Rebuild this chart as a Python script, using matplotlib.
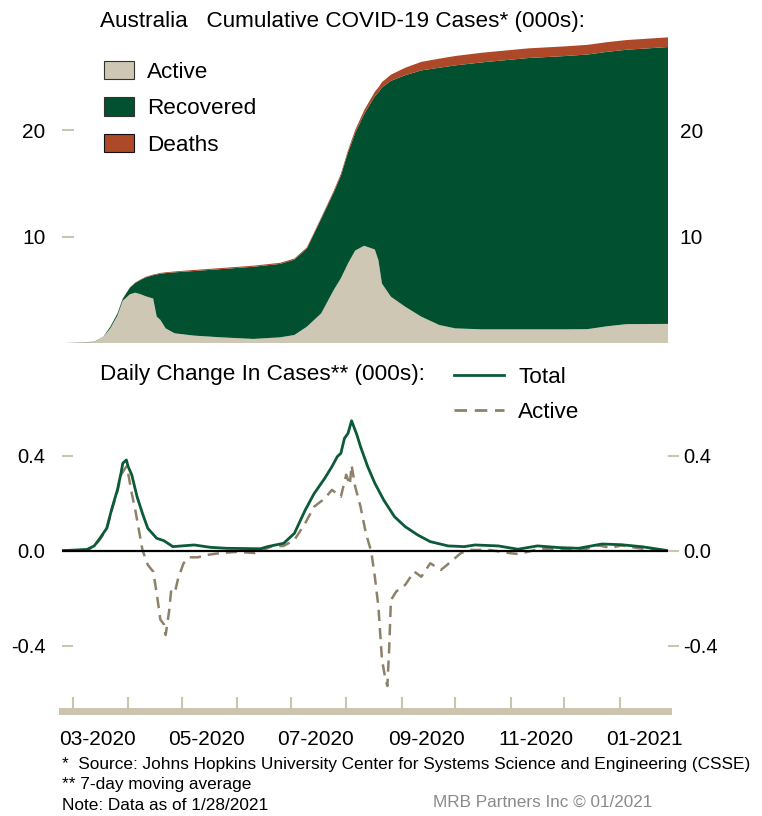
import numpy as np
import pandas as pd
import matplotlib
matplotlib.use("Agg")
import matplotlib.pyplot as plt
import matplotlib.dates as mdates
from matplotlib.ticker import NullFormatter, FormatStrFormatter
from matplotlib.patches import Patch
from matplotlib.lines import Line2D

plt.rcParams['font.family'] = ['Liberation Sans', 'DejaVu Sans']

# ---- cumulative cases (000s) ----
cum_dates = ["2020-02-24", "2020-03-13", "2020-03-18", "2020-03-22", "2020-03-26", "2020-03-29",
             "2020-04-02", "2020-04-05", "2020-04-08", "2020-04-11", "2020-04-15", "2020-04-17",
             "2020-04-19", "2020-04-22", "2020-04-27", "2020-05-08", "2020-05-23", "2020-06-10",
             "2020-06-25", "2020-07-03", "2020-07-10", "2020-07-18", "2020-07-25", "2020-07-29",
             "2020-08-02", "2020-08-06", "2020-08-11", "2020-08-17", "2020-08-19", "2020-08-21",
             "2020-08-26", "2020-09-03", "2020-09-12", "2020-09-22", "2020-10-01", "2020-10-16",
             "2020-11-11", "2020-12-01", "2020-12-14", "2020-12-25", "2021-01-05", "2021-01-28"]
total_cum = [0.02, 0.15, 0.6, 1.56, 2.8, 4.2,
             5.25, 5.7, 6.0, 6.25, 6.45, 6.52,
             6.6, 6.66, 6.74, 6.88, 7.06, 7.28,
             7.55, 7.95, 9.0, 11.8, 14.3, 15.9,
             18.1, 20.0, 21.85, 23.6, 24.0, 24.5,
             25.2, 25.85, 26.4, 26.7, 26.95, 27.26,
             27.67, 27.85, 28.0, 28.25, 28.45, 28.7]
active_cum = [0.02, 0.12, 0.58, 1.4, 2.6, 4.0,
              4.6, 4.75, 4.6, 4.4, 4.2, 2.5,
              2.2, 1.4, 0.94, 0.72, 0.56, 0.41,
              0.56, 0.78, 1.56, 2.81, 5.0, 6.1,
              7.5, 8.7, 9.15, 8.8, 7.8, 5.6,
              4.37, 3.43, 2.5, 1.72, 1.4, 1.31,
              1.31, 1.31, 1.33, 1.6, 1.8, 1.82]
deaths_cum = [0.0, 0.003, 0.006, 0.007, 0.013, 0.016,
              0.025, 0.035, 0.051, 0.061, 0.063, 0.065,
              0.071, 0.075, 0.083, 0.097, 0.1, 0.102,
              0.104, 0.104, 0.106, 0.122, 0.145, 0.176,
              0.208, 0.278, 0.351, 0.42, 0.46, 0.5,
              0.58, 0.7, 0.8, 0.85, 0.88, 0.904,
              0.907, 0.907, 0.908, 0.908, 0.909, 0.909]

# ---- daily change, 7-day moving average (000s) ----
tot_dates = ["2020-02-24", "2020-03-09", "2020-03-13", "2020-03-16", "2020-03-20", "2020-03-23",
             "2020-03-26", "2020-03-28", "2020-03-29", "2020-03-31", "2020-04-01", "2020-04-03",
             "2020-04-06", "2020-04-09", "2020-04-12", "2020-04-17", "2020-04-21", "2020-04-26",
             "2020-05-08", "2020-05-17", "2020-05-26", "2020-06-14", "2020-06-18", "2020-06-27",
             "2020-07-03", "2020-07-09", "2020-07-14", "2020-07-20", "2020-07-24", "2020-07-27",
             "2020-07-29", "2020-07-31", "2020-08-02", "2020-08-04", "2020-08-07", "2020-08-09",
             "2020-08-13", "2020-08-17", "2020-08-22", "2020-08-28", "2020-09-03", "2020-09-10",
             "2020-09-17", "2020-09-27", "2020-10-06", "2020-10-12", "2020-10-25", "2020-11-05",
             "2020-11-16", "2020-11-28", "2020-12-09", "2020-12-22", "2021-01-02", "2021-01-14",
             "2021-01-28"]
total_daily = [0.0, 0.005, 0.02, 0.05, 0.094, 0.18,
               0.256, 0.326, 0.368, 0.382, 0.354, 0.32,
               0.227, 0.157, 0.094, 0.052, 0.042, 0.017,
               0.024, 0.014, 0.01, 0.008, 0.017, 0.031,
               0.073, 0.17, 0.24, 0.305, 0.354, 0.396,
               0.41, 0.473, 0.494, 0.547, 0.487, 0.438,
               0.354, 0.284, 0.213, 0.143, 0.101, 0.066,
               0.038, 0.02, 0.017, 0.024, 0.02, 0.006,
               0.02, 0.013, 0.01, 0.028, 0.025, 0.016,
               0.0]

act_dates = ["2020-02-24", "2020-03-09", "2020-03-13", "2020-03-16", "2020-03-20", "2020-03-23",
             "2020-03-26", "2020-03-28", "2020-03-31", "2020-04-01", "2020-04-03", "2020-04-05",
             "2020-04-07", "2020-04-09", "2020-04-11", "2020-04-12", "2020-04-15", "2020-04-17",
             "2020-04-19", "2020-04-21", "2020-04-22", "2020-04-24", "2020-04-25", "2020-04-27",
             "2020-04-29", "2020-05-02", "2020-05-05", "2020-05-10", "2020-05-15", "2020-05-23",
             "2020-06-01", "2020-06-11", "2020-06-20", "2020-06-27", "2020-07-03", "2020-07-09",
             "2020-07-14", "2020-07-20", "2020-07-24", "2020-07-29", "2020-08-01", "2020-08-03",
             "2020-08-04", "2020-08-06", "2020-08-09", "2020-08-12", "2020-08-15", "2020-08-17",
             "2020-08-19", "2020-08-21", "2020-08-23", "2020-08-24", "2020-08-25", "2020-08-26",
             "2020-08-29", "2020-09-03", "2020-09-08", "2020-09-12", "2020-09-17", "2020-09-23",
             "2020-09-28", "2020-10-04", "2020-10-09", "2020-10-20", "2020-11-01", "2020-11-05",
             "2020-11-11", "2020-11-18", "2020-12-01", "2020-12-12", "2020-12-20", "2020-12-27",
             "2021-01-02", "2021-01-12", "2021-01-28"]
active_daily = [0.0, 0.003, 0.018, 0.045, 0.09, 0.175,
                0.25, 0.32, 0.354, 0.326, 0.242, 0.171,
                0.087, 0.003, -0.039, -0.06, -0.088, -0.18,
                -0.29, -0.31, -0.355, -0.25, -0.172, -0.18,
                -0.116, -0.053, -0.028, -0.028, -0.018, -0.01,
                -0.005, -0.01, 0.017, 0.02, 0.045, 0.115,
                0.185, 0.22, 0.256, 0.227, 0.32, 0.277,
                0.36, 0.27, 0.185, 0.073, -0.004, -0.11,
                -0.236, -0.46, -0.544, -0.57, -0.418, -0.208,
                -0.172, -0.144, -0.088, -0.11, -0.053, -0.081,
                -0.05, -0.011, 0.003, 0.003, -0.011, -0.014,
                -0.004, 0.009, 0.005, 0.005, 0.022, 0.012,
                0.022, 0.01, -0.004]

c_active = '#CDC7B4'
c_recov = '#01502F'
c_deaths = '#AD4828'
c_total = '#0B5A38'
c_act_line = '#8E8169'
c_tick = '#CBC4AE'
fs = 16.2

cd = pd.to_datetime(cum_dates)
total_cum = np.array(total_cum)
active_cum = np.array(active_cum)
deaths_cum = np.array(deaths_cum)
recov_cum = total_cum - active_cum - deaths_cum

xmin = pd.Timestamp("2020-02-24")
xmax = pd.Timestamp("2021-01-28")

fig = plt.figure(figsize=(7.62, 8.16), dpi=100)
L, W = 62 / 762, 606 / 762
ax1 = fig.add_axes([L, 1 - 343.3 / 816, W, 313.3 / 816])
ax2 = fig.add_axes([L, 1 - 710.7 / 816, W, 310.7 / 816])

# top panel: stacked areas
ax1.stackplot(cd, active_cum, recov_cum, deaths_cum,
              colors=[c_active, c_recov, c_deaths], linewidth=0)
ax1.set_xlim(xmin, xmax)
ax1.set_ylim(0, 29.39)
for s in ax1.spines.values():
    s.set_visible(False)
ax1.set_xticks([])
ax1.set_yticks([10, 20])
ax1.tick_params(axis='y', direction='in', length=8.5, width=1.5, color=c_tick,
                labelsize=15, pad=12)
sec1 = ax1.secondary_yaxis('right')
sec1.set_yticks([10, 20])
sec1.tick_params(axis='y', length=0, labelsize=15, pad=8.5)
sec1.spines['right'].set_visible(False)

ax1.legend(handles=[Patch(facecolor=c_active, edgecolor='#333333', lw=0.8, label='Active'),
                    Patch(facecolor=c_recov, edgecolor='#333333', lw=0.8, label='Recovered'),
                    Patch(facecolor=c_deaths, edgecolor='#111111', lw=0.8, label='Deaths')],
           loc='upper left', bbox_to_anchor=(104 / 762, 1 - 60.5 / 816),
           bbox_transform=fig.transFigure, frameon=False, fontsize=fs,
           handlelength=1.35, handleheight=0.9, handletextpad=0.55,
           labelspacing=0.64, borderpad=0, borderaxespad=0)

# bottom panel: daily change lines
ax2.plot(pd.to_datetime(tot_dates), total_daily, color=c_total, lw=2.0, zorder=3)
ax2.plot(pd.to_datetime(act_dates), active_daily, color=c_act_line, lw=1.8,
         dashes=(4.5, 2.8), zorder=2)
ax2.axhline(0, color='black', lw=1.6, zorder=4)
ax2.set_xlim(xmin, xmax)
ax2.set_ylim(-0.674, 0.6345)
for k in ['top', 'left', 'right']:
    ax2.spines[k].set_visible(False)
ax2.spines['bottom'].set_color(c_tick)
ax2.spines['bottom'].set_linewidth(5)
ax2.set_yticks([-0.4, 0.0, 0.4])
ax2.yaxis.set_major_formatter(FormatStrFormatter('%.1f'))
ax2.tick_params(axis='y', direction='in', length=8, width=1.5, color=c_tick,
                labelsize=14.5, pad=12)
sec2 = ax2.secondary_yaxis('right')
sec2.set_yticks([-0.4, 0.0, 0.4])
sec2.yaxis.set_major_formatter(FormatStrFormatter('%.1f'))
sec2.tick_params(axis='y', direction='out', length=8, width=1.5, color=c_tick,
                 labelsize=14.5, pad=3)
sec2.spines['right'].set_visible(False)

ax2.xaxis.set_major_locator(mdates.MonthLocator())
ax2.xaxis.set_major_formatter(NullFormatter())
ax2.xaxis.set_minor_locator(mdates.MonthLocator(bymonth=[1, 3, 5, 7, 9, 11], bymonthday=15))
ax2.xaxis.set_minor_formatter(mdates.DateFormatter('%m-%Y'))
ax2.tick_params(axis='x', which='major', direction='in', length=10, width=1.5, color=c_tick)
ax2.tick_params(axis='x', which='minor', length=0, pad=14, labelsize=15)

ax2.legend(handles=[Line2D([], [], color=c_total, lw=2.0, label='Total'),
                    Line2D([], [], color=c_act_line, lw=2.0, dashes=(4.5, 2.8), label='Active')],
           loc='upper left', bbox_to_anchor=(454 / 762, 1 - 366.5 / 816),
           bbox_transform=fig.transFigure, frameon=False, fontsize=fs,
           handlelength=2.2, handletextpad=0.65, labelspacing=0.63,
           borderpad=0, borderaxespad=0)

fig.text(100 / 762, 1 - 22 / 816, "Australia   Cumulative COVID-19 Cases* (000s):",
         fontsize=fs, va='center')
fig.text(100 / 762, 1 - 375 / 816, "Daily Change In Cases** (000s):",
         fontsize=fs, va='center')

fig.text(62 / 762, 1 - 764 / 816,
         "*  Source: Johns Hopkins University Center for Systems Science and Engineering (CSSE)",
         fontsize=12.4, va='center')
fig.text(62 / 762, 1 - 785 / 816, "** 7-day moving average", fontsize=12.4, va='center')
fig.text(62 / 762, 1 - 805 / 816, "Note: Data as of 1/28/2021", fontsize=12.4, va='center')
fig.text(433 / 762, 1 - 802 / 816, "MRB Partners Inc \u00a9 01/2021", fontsize=12.3,
         va='center', color='#8A8A8A')

fig.savefig("out.png", dpi=100)
